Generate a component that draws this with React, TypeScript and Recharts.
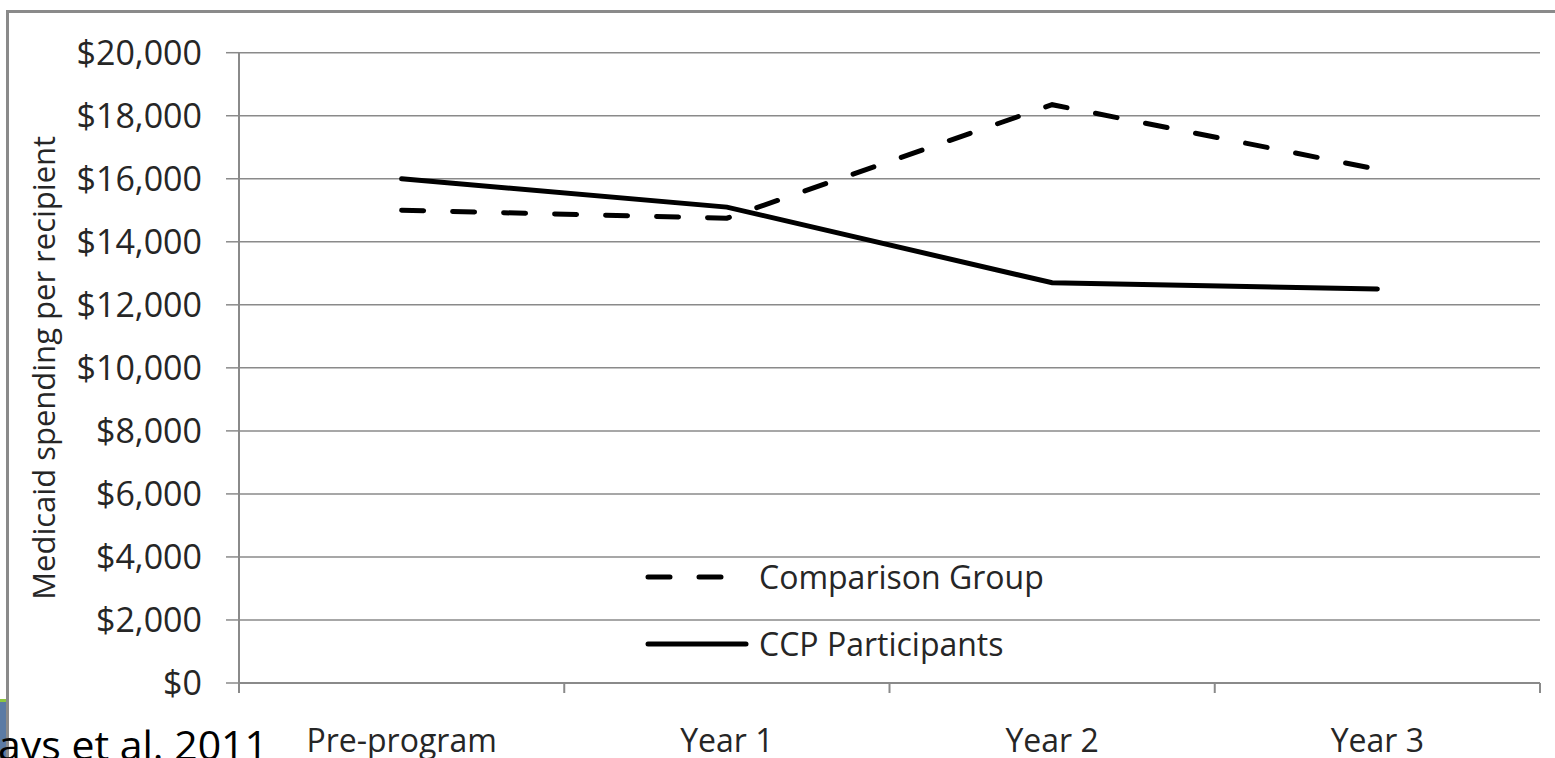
import { LineChart, Line, XAxis, YAxis, CartesianGrid, Legend } from 'recharts'

const periods = ['Pre-program', 'Year 1', 'Year 2', 'Year 3']
const comparisonGroup = [15000, 14750, 18350, 16300]
const ccpParticipants = [16000, 15100, 12700, 12500]
const yTicks = [0, 2000, 4000, 6000, 8000, 10000, 12000, 14000, 16000, 18000, 20000]

const data = periods.map((period, i) => ({
    period,
    comparison: comparisonGroup[i],
    ccp: ccpParticipants[i],
}))

const FONT = '"Open Sans", sans-serif'
const GRID = '#8a8a8a'
const TEXT = '#262626'
const LABEL_GAP = 69

const money = (v: number) => '$' + String(v).replace(/\B(?=(\d{3})+(?!\d))/g, ',')

// category label plus the small tick marks on the band edges
function PeriodTick({ x, y, payload, index, visibleTicksCount, width }: any) {
    const half = payload && payload.offset > 0 ? payload.offset : width / visibleTicksCount / 2
    const top = y - LABEL_GAP
    const last = index === visibleTicksCount - 1
    return (
        <g>
            <line x1={x - half} x2={x - half} y1={top} y2={top + 10} stroke={GRID} strokeWidth={2} />
            {last && <line x1={x + half} x2={x + half} y1={top} y2={top + 10} stroke={GRID} strokeWidth={2} />}
            <text x={x} y={y} textAnchor="middle" fontFamily={FONT} fontSize={32} fill={TEXT}>
                {payload.value}
            </text>
        </g>
    )
}

function LegendBox() {
    const row = { display: 'flex', alignItems: 'center', height: 67 }
    const label = { fontFamily: FONT, fontSize: 32, color: TEXT, marginLeft: 10, whiteSpace: 'nowrap' as const }
    return (
        <div>
            <div style={row}>
                <svg width={104} height={10}>
                    <line x1={3} y1={5} x2={101} y2={5} stroke="#000" strokeWidth={5}
                        strokeDasharray="22 29" strokeLinecap="round" />
                </svg>
                <span style={label}>Comparison Group</span>
            </div>
            <div style={row}>
                <svg width={104} height={10}>
                    <line x1={3} y1={5} x2={101} y2={5} stroke="#000" strokeWidth={5} strokeLinecap="round" />
                </svg>
                <span style={label}>CCP Participants</span>
            </div>
        </div>
    )
}

function YTitle({ viewBox }: any) {
    const cy = viewBox.y + viewBox.height / 2
    return (
        <text x={43} y={cy} transform={`rotate(-90, 43, ${cy})`} textAnchor="middle"
            dominantBaseline="central" fontFamily={FONT} fontSize={31} fill={TEXT}>
            Medicaid spending per recipient
        </text>
    )
}

export default function App() {
    return (
        <div style={{ position: 'absolute', left: 0, top: 0, width: 1555, height: 758, overflow: 'hidden', background: '#fff' }}>
            <div style={{ position: 'absolute', left: 0, top: 0 }}>
                <LineChart width={1555} height={758} data={data} margin={{ top: 52.7, right: 15, bottom: 0, left: 0 }}>
                    <CartesianGrid vertical={false} stroke={GRID} strokeWidth={1.5} />
                    <XAxis dataKey="period" scale="band" height={75} interval={0}
                        axisLine={{ stroke: GRID, strokeWidth: 2 }} tickLine={false}
                        tickSize={0} tickMargin={LABEL_GAP} tick={<PeriodTick />} />
                    <YAxis domain={[0, 20000]} ticks={yTicks} width={239} tickSize={13} tickMargin={24}
                        tickFormatter={money}
                        tick={{ fontFamily: FONT, fontSize: 34, fill: TEXT }}
                        axisLine={{ stroke: GRID, strokeWidth: 2 }} tickLine={{ stroke: GRID, strokeWidth: 1.5 }}
                        label={{ content: <YTitle /> }} />
                    <Legend layout="horizontal" verticalAlign="middle" align="center" content={<LegendBox />}
                        wrapperStyle={{ left: 645, top: 543, width: 420 }} />
                    <Line dataKey="comparison" name="Comparison Group" stroke="#000" strokeWidth={5}
                        strokeDasharray="22 29" strokeLinecap="round" dot={false} isAnimationActive={false} />
                    <Line dataKey="ccp" name="CCP Participants" stroke="#000" strokeWidth={5}
                        strokeLinecap="round" dot={false} isAnimationActive={false} />
                </LineChart>
            </div>

            {/* slide frame, corner decoration and the cut-off source note */}
            <svg width={1555} height={758} style={{ position: 'absolute', left: 0, top: 0, pointerEvents: 'none' }}>
                <path d="M 7.5 758 V 11.5 H 1555" fill="none" stroke={GRID} strokeWidth={3} />
                <rect x={0} y={700} width={6} height={58} fill="#5b7ba4" />
                <rect x={0} y={699} width={6} height={3} fill="#8dc63f" />
                <text x={268} y={760} textAnchor="end" fontFamily={FONT} fontSize={41} fill="#000">ays et al. 2011</text>
            </svg>
        </div>
    )
}
